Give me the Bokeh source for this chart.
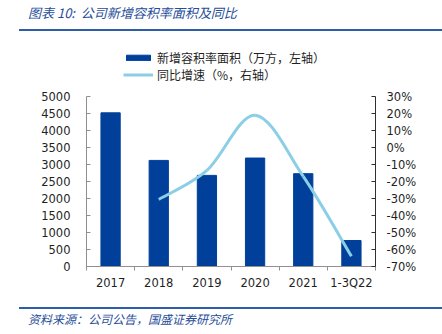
from bokeh.plotting import figure
from bokeh.models import (Range1d, LinearAxis, FixedTicker, PrintfTickFormatter,
                          Legend, LegendItem, Div)
from bokeh.layouts import column
from bokeh.embed import file_html
from bokeh.resources import INLINE

categories = ["2017", "2018", "2019", "2020", "2021", "1-3Q22"]
area = [4520, 3120, 2680, 3190, 2730, 765]          # 万方, left axis
growth_cats = ["2018", "2019", "2020", "2021", "1-3Q22"]
growth = [-30.5, -13.5, 19.0, -17.0, -64.0]          # %, right axis
left_ticks = list(range(0, 5001, 500))
right_ticks = list(range(-70, 31, 10))

title_text = "图表 10:&nbsp; 公司新增容积率面积及同比"
source_text = "资料来源：公司公告，国盛证券研究所"
bar_label = "新增容积率面积（万方，左轴）"
line_label = "同比增速（%，右轴）"

BAR = "#00409A"
LINE = "#8ACFE6"
BLUE = "#2E5EA8"
TXT = "#1F1F1F"
CJK = "Noto Sans CJK SC"
NUM = "DejaVu Sans"

# geometry: the frame is taller than the axes so the legend can sit inside it
AXIS_PX = 170          # pixel height of the value axes
FRAME_PX = 221         # pixel height of the frame
L_MIN, L_MAX = left_ticks[0], left_ticks[-1]
R_MIN, R_MAX = right_ticks[0], right_ticks[-1]
l_top = L_MIN + (L_MAX - L_MIN) * FRAME_PX / AXIS_PX
r_top = R_MIN + (R_MAX - R_MIN) * FRAME_PX / AXIS_PX

xs = list(range(len(categories)))
p = figure(width=442, height=274, output_backend="svg", toolbar_location=None,
           x_range=Range1d(-0.5, len(categories) - 0.5),
           y_range=Range1d(L_MIN, l_top),
           min_border_left=86, min_border_right=67, min_border_top=13, min_border_bottom=40)
p.extra_y_ranges = {"pct": Range1d(R_MIN, r_top)}
p.outline_line_color = None
p.xgrid.visible = False
p.ygrid.visible = False
p.background_fill_color = "white"
p.border_fill_color = "white"

bars = p.vbar(x=xs, top=area, width=0.4, fill_color=BAR, line_color=BAR)

# smooth line (Excel-style smoothed) built from the data points via Bezier segments
gx = [categories.index(c) for c in growth_cats]
n = len(gx)
x0, y0, x1, y1, cx0, cy0, cx1, cy1 = [], [], [], [], [], [], [], []
for i in range(n - 1):
    pxm = gx[i - 1] if i > 0 else gx[i]
    pym = growth[i - 1] if i > 0 else growth[i]
    pxp = gx[i + 2] if i + 2 < n else gx[i + 1]
    pyp = growth[i + 2] if i + 2 < n else growth[i + 1]
    x0.append(gx[i]); y0.append(growth[i])
    x1.append(gx[i + 1]); y1.append(growth[i + 1])
    cx0.append(gx[i] + (gx[i + 1] - pxm) / 6); cy0.append(growth[i] + (growth[i + 1] - pym) / 6)
    cx1.append(gx[i + 1] - (pxp - gx[i]) / 6); cy1.append(growth[i + 1] - (pyp - growth[i]) / 6)
line = p.bezier(x0=x0, y0=y0, x1=x1, y1=y1, cx0=cx0, cy0=cy0, cx1=cx1, cy1=cy1,
                line_color=LINE, line_width=3, y_range_name="pct")

# axes
xa = p.xaxis[0]
xa.ticker = FixedTicker(ticks=xs, minor_ticks=[i + 0.5 for i in range(-1, len(categories))])
xa.major_label_overrides = {i: c for i, c in enumerate(categories)}
xa.major_tick_line_color = None
xa.major_tick_in = 0
xa.major_tick_out = 0
xa.minor_tick_in = 0
xa.minor_tick_out = 4
xa.minor_tick_line_color = "#909090"
xa.axis_line_color = "#909090"
xa.major_label_standoff = 5
xa.major_label_text_font = NUM
xa.major_label_text_font_size = "11.5px"
xa.major_label_text_color = TXT

ya = p.yaxis[0]
ya.ticker = FixedTicker(ticks=left_ticks)
ya.bounds = (L_MIN, L_MAX)
ya.major_tick_in = 4
ya.major_tick_out = 0
ya.minor_tick_line_color = None
ya.axis_line_color = "#909090"
ya.major_tick_line_color = "#909090"
ya.major_label_standoff = 16
ya.major_label_text_font = NUM
ya.major_label_text_font_size = "11.5px"
ya.major_label_text_color = TXT

ra = LinearAxis(y_range_name="pct", ticker=FixedTicker(ticks=right_ticks),
                formatter=PrintfTickFormatter(format="%d%%"), bounds=(R_MIN, R_MAX))
ra.major_tick_in = 4
ra.major_tick_out = 0
ra.minor_tick_line_color = None
ra.axis_line_color = "#303030"
ra.major_tick_line_color = "#303030"
ra.major_label_standoff = 11
ra.major_label_text_font = NUM
ra.major_label_text_font_size = "11.5px"
ra.major_label_text_color = TXT
p.add_layout(ra, "right")

# legend inside the (tall) frame, above the axes' extent
leg = Legend(items=[LegendItem(label=bar_label, renderers=[bars]),
                    LegendItem(label=line_label, renderers=[line])],
             location=(37, 183), orientation="vertical",
             glyph_width=30, glyph_height=7, label_height=12, spacing=-3,
             padding=0, margin=0, border_line_color=None, background_fill_alpha=0,
             label_text_font=CJK, label_text_font_size="12px", label_text_color=TXT,
             label_standoff=4)
p.add_layout(leg, "center")

title_div = Div(width=442, height=32, margin=0, text=(
    '<div style="position:absolute;left:0;top:0;width:442px;height:32px;">'
    f'<div style="position:absolute;left:28px;top:5px;white-space:nowrap;font-family:\'{CJK}\';'
    f'font-style:italic;font-size:13px;line-height:16px;color:#1F4E9A;">{title_text}</div>'
    f'<div style="position:absolute;left:19px;top:29px;width:423px;height:2px;background:{BLUE};"></div>'
    '</div>'))

source_div = Div(width=442, height=28, margin=0, text=(
    '<div style="position:absolute;left:0;top:0;width:442px;height:28px;">'
    f'<div style="position:absolute;left:19px;top:1px;width:423px;height:1.5px;background:{BLUE};"></div>'
    f'<div style="position:absolute;left:28px;top:5px;white-space:nowrap;font-family:\'{CJK}\';'
    f'font-style:italic;font-size:12px;line-height:16px;color:#1F4E9A;">{source_text}</div>'
    '</div>'))

layout = column(title_div, p, source_div, spacing=0)
open("out.html", "w").write(file_html(layout, INLINE))
